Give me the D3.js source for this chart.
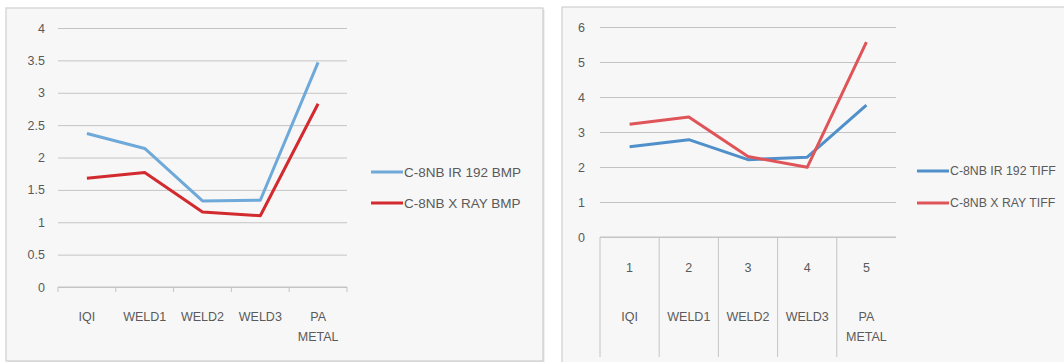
<!DOCTYPE html>
<html>
<head>
<meta charset="utf-8">
<script src="https://cdn.jsdelivr.net/npm/d3@7"></script>
<style>
  html, body { margin: 0; padding: 0; background: #ffffff; }
  svg { display: block; }
  text { font-family: "Liberation Sans", "DejaVu Sans", sans-serif; fill: #5a5a5a; }
</style>
</head>
<body>
<svg id="chart" width="1064" height="362"></svg>
<script>
// Sample names and measured values
const categories = ["IQI", "WELD1", "WELD2", "WELD3", "PA METAL"];
const sampleNumbers = ["1", "2", "3", "4", "5"];

const bmpIr192 = [2.37, 2.14, 1.33, 1.34, 3.47];
const bmpXray = [1.68, 1.77, 1.16, 1.10, 2.83];
const tiffIr192 = [2.58, 2.78, 2.21, 2.28, 3.77];
const tiffXray = [3.22, 3.43, 2.30, 1.99, 5.57];

const leftTicks = [0, 0.5, 1, 1.5, 2, 2.5, 3, 3.5, 4];
const rightTicks = [0, 1, 2, 3, 4, 5, 6];

const leftSeriesNames = ["C-8NB IR 192 BMP", "C-8NB X RAY BMP"];
const rightSeriesNames = ["C-8NB IR 192 TIFF", "C-8NB X RAY TIFF"];

const svg = d3.select("#chart");
const gridColor = "#c4c4c4";
const labelSize = 12.5;

function panel(x, y, w, h) {
  svg.append("rect")
    .attr("x", x + 1.5).attr("y", y + 1.5).attr("width", w).attr("height", h)
    .attr("fill", "#e4e4e4");
  svg.append("rect")
    .attr("x", x).attr("y", y).attr("width", w).attr("height", h)
    .attr("fill", "#f7f7f7").attr("stroke", "#cfcfcf").attr("stroke-width", 1.2);
}

function splitLabel(sel, lineGap) {
  sel.each(function () {
    const t = d3.select(this);
    const words = t.text().split(" ");
    t.text(null);
    words.forEach((w, i) => {
      t.append("tspan").attr("x", 0).attr("dy", i === 0 ? 0 : lineGap).text(w);
    });
  });
}

function legend(x0, y0, names, colors, gap, size) {
  const g = svg.append("g").attr("transform", `translate(${x0},${y0})`);
  names.forEach((n, i) => {
    g.append("line")
      .attr("x1", 0).attr("x2", 32).attr("y1", i * gap).attr("y2", i * gap)
      .attr("stroke", colors[i]).attr("stroke-width", 3);
    g.append("text")
      .attr("x", 33).attr("y", i * gap).attr("dy", "0.35em")
      .attr("font-size", size).text(n);
  });
}

// ---------- Left chart (BMP) ----------
panel(6, 8, 537, 353);

const xL = d3.scaleBand().domain(categories).range([58, 347]).paddingInner(0).paddingOuter(0);
const yL = d3.scaleLinear().domain([0, 4]).range([287, 28]);

const gridL = svg.append("g").attr("transform", "translate(58,0)")
  .call(d3.axisLeft(yL).tickValues(leftTicks).tickSize(-289).tickFormat(d3.format("")));
gridL.select(".domain").remove();
gridL.selectAll(".tick line").attr("stroke", gridColor);
gridL.selectAll(".tick text").attr("x", -13).attr("font-size", labelSize).attr("fill", "#5a5a5a");

// category axis with tick marks between categories
const axL = svg.append("g").attr("transform", "translate(0,287)");
axL.append("line").attr("x1", 58).attr("x2", 347).attr("stroke", gridColor);
const boundsL = categories.map(c => xL(c)).concat([xL.range()[1]]);
axL.selectAll(".bt").data(boundsL).join("line")
  .attr("x1", d => d).attr("x2", d => d).attr("y1", 0).attr("y2", 5)
  .attr("stroke", gridColor);
axL.selectAll(".cl").data(categories).join("text")
  .attr("transform", d => `translate(${xL(d) + xL.bandwidth() / 2},34)`)
  .attr("text-anchor", "middle").attr("font-size", labelSize)
  .text(d => d)
  .call(splitLabel, 20);

const lineL = d3.line().x((d, i) => xL(categories[i]) + xL.bandwidth() / 2).y(d => yL(d));
const leftColors = ["#6ea9d9", "#d22a2e"];
[bmpIr192, bmpXray].forEach((s, i) => {
  svg.append("path").datum(s).attr("d", lineL)
    .attr("fill", "none").attr("stroke", leftColors[i]).attr("stroke-width", 3)
    .attr("stroke-linejoin", "round");
});
legend(371, 172, leftSeriesNames, leftColors, 31, 13.5);

// ---------- Right chart (TIFF) ----------
panel(562, 7, 520, 360);

const xR = d3.scaleBand().domain(sampleNumbers).range([600, 896]).paddingInner(0).paddingOuter(0);
const yR = d3.scaleLinear().domain([0, 6]).range([237, 27]);

const gridR = svg.append("g").attr("transform", "translate(600,0)")
  .call(d3.axisLeft(yR).tickValues(rightTicks).tickSize(-296).tickFormat(d3.format("")));
gridR.select(".domain").remove();
gridR.selectAll(".tick line").attr("stroke", gridColor);
gridR.selectAll(".tick text").attr("x", -15).attr("font-size", labelSize).attr("fill", "#5a5a5a");

// two-level category axis: sample number above sample name, separated by dividers
const axR = svg.append("g").attr("transform", "translate(0,237)");
axR.append("line").attr("x1", 600).attr("x2", 896).attr("stroke", gridColor);
const boundsR = sampleNumbers.map(c => xR(c)).concat([xR.range()[1]]);
axR.selectAll(".bt").data(boundsR).join("line")
  .attr("x1", d => d).attr("x2", d => d).attr("y1", 0).attr("y2", (d, i) => i === boundsR.length - 1 ? 0 : 120)
  .attr("stroke", gridColor);
axR.selectAll(".nl").data(sampleNumbers).join("text")
  .attr("x", d => xR(d) + xR.bandwidth() / 2).attr("y", 35)
  .attr("text-anchor", "middle").attr("font-size", labelSize)
  .text(d => d);
axR.selectAll(".cl").data(categories).join("text")
  .attr("transform", (d, i) => `translate(${xR(sampleNumbers[i]) + xR.bandwidth() / 2},84)`)
  .attr("text-anchor", "middle").attr("font-size", labelSize)
  .text(d => d)
  .call(splitLabel, 20);

const lineR = d3.line().x((d, i) => xR(sampleNumbers[i]) + xR.bandwidth() / 2).y(d => yR(d));
const rightColors = ["#4f8fca", "#df5458"];
[tiffIr192, tiffXray].forEach((s, i) => {
  svg.append("path").datum(s).attr("d", lineR)
    .attr("fill", "none").attr("stroke", rightColors[i]).attr("stroke-width", 3)
    .attr("stroke-linejoin", "round");
});
legend(917, 171, rightSeriesNames, rightColors, 32, 12.3);
</script>
</body>
</html>
